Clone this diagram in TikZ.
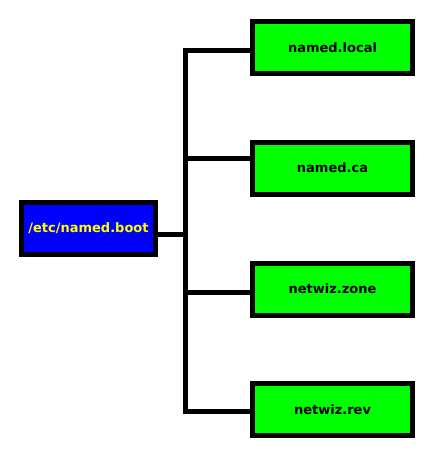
\documentclass[tikz,border=0pt]{standalone}
\usepackage{fontspec}
\setmainfont{DejaVu Sans}
\definecolor{boxgreen}{RGB}{0,255,0}
\definecolor{boxblue}{RGB}{0,0,255}
\definecolor{txtyellow}{RGB}{255,255,0}
\begin{document}
\begin{tikzpicture}[x=1pt,y=-1pt,
  filebox/.style={draw=black,line width=5pt,fill=boxgreen,minimum width=160pt,minimum height=52pt,inner sep=0pt,font=\fontsize{13}{15}\selectfont\bfseries,text=black},
  rootbox/.style={draw=black,line width=5pt,fill=boxblue,minimum width=134pt,minimum height=52pt,inner sep=0pt,font=\fontsize{13}{15}\selectfont\bfseries,text=txtyellow},
  link/.style={draw=black,line width=5pt}]
\useasboundingbox (0,0) rectangle (433,456);
\node[rootbox] (root) at (88.5,228.5) {/etc/named.boot};
\node[filebox] (f1) at (332.5,47.5) {named.local};
\node[filebox] (f2) at (332.5,168) {named.ca};
\node[filebox] (f3) at (332.5,289) {netwiz.zone};
\node[filebox] (f4) at (332.5,409.5) {netwiz.rev};
\coordinate (j1) at (185.5,50);
\coordinate (j2) at (185.5,158);
\coordinate (j0) at (185.5,234);
\coordinate (j3) at (185.5,292.5);
\coordinate (j4) at (185.5,411.5);
\draw[link] (f1.west |- j1) -- (j1) -- (j4) -- (f4.west |- j4);
\draw[link] (f2.west |- j2) -- (j2);
\draw[link] (f3.west |- j3) -- (j3);
\draw[link] (root.east |- j0) -- (j0);
\end{tikzpicture}
\end{document}
